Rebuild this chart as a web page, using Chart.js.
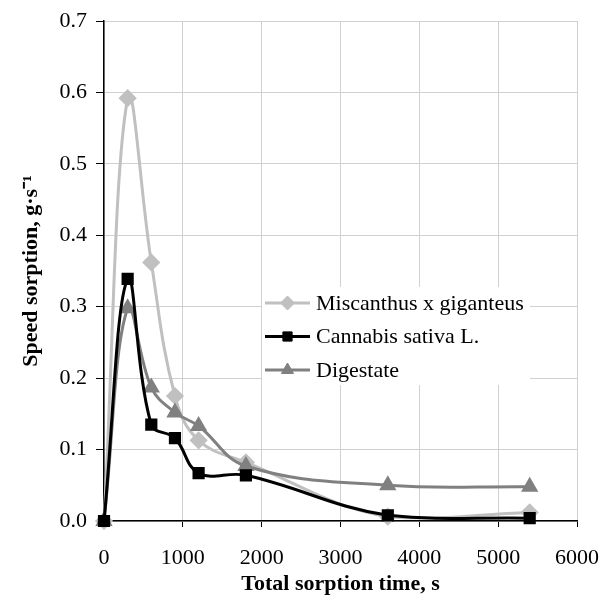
<!DOCTYPE html>
<html>
<head>
<meta charset="utf-8">
<script src="https://cdn.jsdelivr.net/npm/chart.js@4"></script>
<style>
  html, body { margin: 0; padding: 0; background: #fff; }
  #wrap { width: 611px; height: 599px; }
</style>
</head>
<body>
<div id="wrap"><canvas id="chart" width="611" height="599"></canvas></div>
<script>
const times = [0, 300, 600, 900, 1200, 1800, 3600, 5400];
const miscanthus = [0, 0.592, 0.362, 0.175, 0.113, 0.082, 0.006, 0.012];
const cannabis = [0, 0.339, 0.135, 0.116, 0.067, 0.064, 0.008, 0.004];
const digestate = [0, 0.298, 0.187, 0.152, 0.133, 0.077, 0.050, 0.048];
const seriesNames = ["Miscanthus x giganteus", "Cannabis sativa L.", "Digestate"];
const xTicks = [0, 1000, 2000, 3000, 4000, 5000, 6000];
const yTicks = [0, 0.1, 0.2, 0.3, 0.4, 0.5, 0.6, 0.7];

const serif = "'Liberation Serif', 'Times New Roman', serif";

function toPoints(vals) {
  return vals.map((v, i) => ({ x: times[i], y: v }));
}

// legend drawn inside the plot, like the Excel original
const innerLegend = {
  id: "innerLegend",
  afterDatasetsDraw(chart) {
    const ctx = chart.ctx;
    const box = { x: 262, y: 287, w: 268, h: 98 };
    ctx.save();
    ctx.fillStyle = "#fff";
    ctx.fillRect(box.x, box.y, box.w, box.h);
    ctx.font = "22px " + serif;
    ctx.textBaseline = "middle";
    chart.data.datasets.forEach((ds, i) => {
      const y = 303 + i * 33.5;
      ctx.strokeStyle = ds.borderColor;
      ctx.lineWidth = 3;
      ctx.beginPath();
      ctx.moveTo(265, y);
      ctx.lineTo(310, y);
      ctx.stroke();
      ctx.fillStyle = ds.borderColor;
      ctx.lineWidth = 1;
      Chart.helpers.drawPoint(ctx, {
        pointStyle: ds.pointStyle,
        radius: ds.pointRadius,
        rotation: 0,
        borderWidth: 1
      }, 287.5, y);
      ctx.fillStyle = "#000";
      ctx.fillText(ds.label, 316, y + 1);
    });
    ctx.restore();
  }
};

function styleFor(color, shape, r) {
  return {
    borderColor: color,
    backgroundColor: color,
    pointBackgroundColor: color,
    pointBorderColor: color,
    pointStyle: shape,
    pointRadius: r,
    borderWidth: 3,
    tension: 0.4,
    clip: false
  };
}

new Chart(document.getElementById("chart"), {
  type: "line",
  data: {
    datasets: [
      Object.assign({ label: seriesNames[0], data: toPoints(miscanthus), order: 3 }, styleFor("#c0c0c0", "rectRot", 7)),
      Object.assign({ label: seriesNames[1], data: toPoints(cannabis), order: 1 }, styleFor("#000000", "rect", 6.5)),
      Object.assign({ label: seriesNames[2], data: toPoints(digestate), order: 2 }, styleFor("#808080", "triangle", 7))
    ]
  },
  options: {
    responsive: false,
    animation: false,
    layout: { padding: { top: 21, right: 34, left: 0, bottom: 0 } },
    plugins: {
      legend: { display: false },
      tooltip: { enabled: false }
    },
    scales: {
      x: {
        type: "linear",
        min: 0,
        max: 6000,
        afterBuildTicks(axis) { axis.ticks = xTicks.map(v => ({ value: v })); },
        afterFit(axis) {
          axis.height = 78;
          axis.paddingLeft = 0;
          axis.paddingRight = 0;
        },
        grid: { color: "#d0d0d0", tickColor: "#000", tickLength: 6, lineWidth: 1 },
        border: { color: "#000", width: 1.5 },
        ticks: {
          color: "#000",
          padding: 18,
          maxRotation: 0,
          font: { family: serif, size: 22 },
          callback: v => String(v)
        },
        title: {
          display: true,
          text: "Total sorption time, s",
          color: "#000",
          padding: { top: 0, bottom: 1 },
          font: { family: serif, size: 22, weight: "bold" }
        }
      },
      y: {
        min: 0,
        max: 0.7,
        afterBuildTicks(axis) { axis.ticks = yTicks.map(v => ({ value: v })); },
        afterFit(axis) {
          axis.width = 104;
          axis.paddingTop = 0;
          axis.paddingBottom = 0;
        },
        grid: { color: "#d0d0d0", tickColor: "#000", tickLength: 8, lineWidth: 1 },
        border: { color: "#000", width: 1.5 },
        ticks: {
          color: "#000",
          padding: 9,
          font: { family: serif, size: 22 },
          callback: v => v.toFixed(1)
        },
        title: {
          display: true,
          text: "Speed sorption, g·s\u207B\u00B9",
          color: "#000",
          padding: { top: 18, bottom: 0 },
          font: { family: serif, size: 22, weight: "bold" }
        }
      }
    }
  },
  plugins: [innerLegend]
});
</script>
</body>
</html>
